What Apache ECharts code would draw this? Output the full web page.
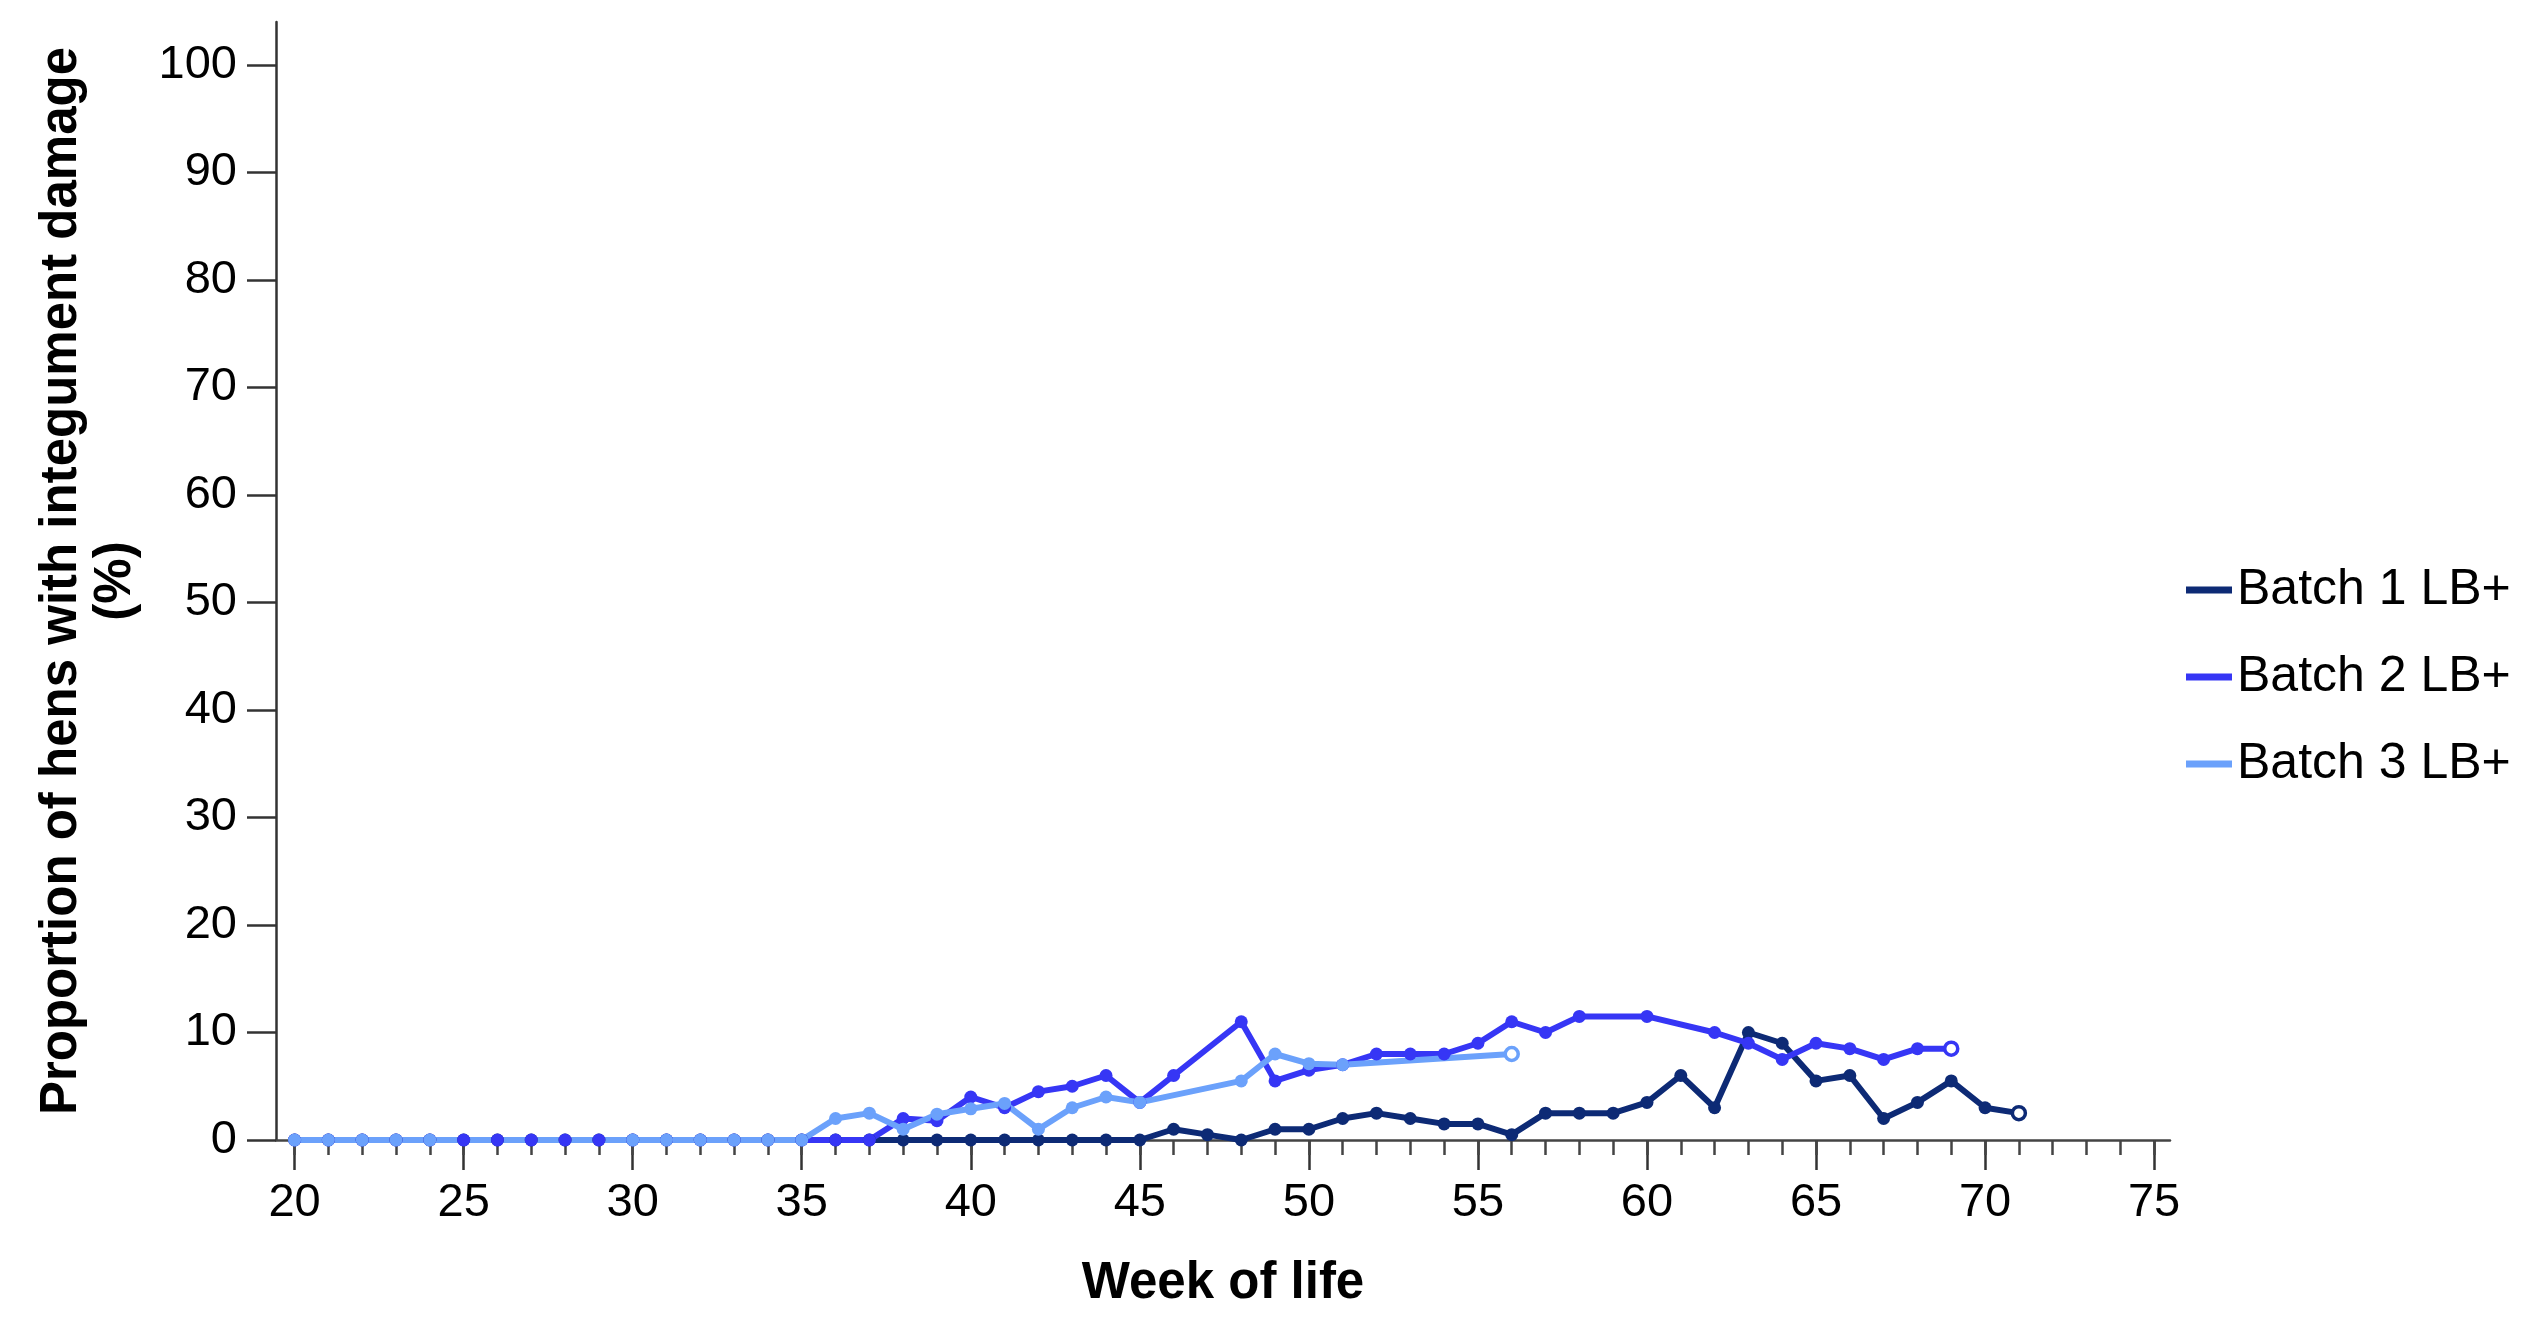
<!DOCTYPE html>
<html>
<head>
<meta charset="utf-8">
<script src="https://cdn.jsdelivr.net/npm/echarts@6/dist/echarts.min.js"></script>
<style>
html,body{margin:0;padding:0;background:#fff;}
#chart{width:2535px;height:1326px;}
</style>
</head>
<body>
<div id="chart"></div>
<script>
// ---- data ----
const weeks1 = [20,21,22,23,24,25,26,27,28,29,30,31,32,33,34,35,36,37,38,39,40,41,42,43,44,45,46,47,48,49,50,51,52,53,54,55,56,57,58,59,60,61,62,63,64,65,66,67,68,69,70,71];
const batch1 = [0,0,0,0,0,0,0,0,0,0,0,0,0,0,0,0,0,0,0,0,0,0,0,0,0,0,1,0.5,0,1,1,2,2.5,2,1.5,1.5,0.5,2.5,2.5,2.5,3.5,6,3,10,9,5.5,6,2,3.5,5.5,3,2.5];

const weeks2 = [20,21,22,23,24,25,26,27,28,29,30,31,32,33,34,35,36,37,38,39,40,41,42,43,44,45,46,47,48,49,50,51,52,53,54,55,56,57,58,59,60,61,62,63,64,65,66,67,68,69];
const batch2 = [0,0,0,0,0,0,0,0,0,0,0,0,0,0,0,0,0,0,2,1.8,4,3,4.5,5,6,3.5,6,null,11,5.5,6.5,7,8,8,8,9,11,10,11.5,null,11.5,null,10,9,7.5,9,8.5,7.5,8.5,8.5];

const weeks3 = [20,21,22,23,24,25,26,27,28,29,30,31,32,33,34,35,36,37,38,39,40,41,42,43,44,45,46,47,48,49,50,51,52,53,54,55,56];
const batch3 = [0,0,0,0,0,null,null,null,null,null,0,0,0,0,0,0,2,2.5,1,2.4,2.9,3.4,1,3,4,3.5,null,null,5.5,8,7.1,7,null,null,null,null,8];

const seriesNames = ['Batch 1 LB+','Batch 2 LB+','Batch 3 LB+'];
const seriesColors = ['#0d2a75','#3636f5','#6ba1fb'];
const xMajorTicks = [20,25,30,35,40,45,50,55,60,65,70,75];
const xMinorTicks = [];
for (let w = 20; w <= 75; w++) xMinorTicks.push(w);
const yTicks = [0,10,20,30,40,50,60,70,80,90,100];

// ---- build ----
function buildData(weeks, vals, color) {
  let lastIdx = -1;
  for (let i = vals.length - 1; i >= 0; i--) { if (vals[i] !== null) { lastIdx = i; break; } }
  return weeks.map((w, i) => {
    if (i === lastIdx) {
      return { value: [w, vals[i]], itemStyle: { color: '#ffffff', borderColor: color, borderWidth: 3.5 } };
    }
    return [w, vals[i]];
  });
}

const font = '"Liberation Sans", Arial, sans-serif';
const allWeeks = [weeks1, weeks2, weeks3];
const allVals = [batch1, batch2, batch3];

const series = seriesNames.map((name, k) => ({
  name: name,
  type: 'line',
  xAxisIndex: 0,
  data: buildData(allWeeks[k], allVals[k], seriesColors[k]),
  connectNulls: true,
  symbol: 'circle',
  symbolSize: 13,
  showAllSymbol: true,
  lineStyle: { color: seriesColors[k], width: 6 },
  itemStyle: { color: seriesColors[k] },
  emphasis: { disabled: true },
  animation: false
}));

const chart = echarts.init(document.getElementById('chart'), null, { renderer: 'canvas' });
chart.setOption({
  backgroundColor: '#ffffff',
  animation: false,
  grid: { left: 276, right: 365, top: 22, bottom: 186, containLabel: false },
  legend: {
    orient: 'vertical',
    left: 2181,
    top: 560,
    itemWidth: 46,
    itemHeight: 7,
    itemGap: 37,
    icon: 'rect',
    data: seriesNames,
    textStyle: { fontSize: 50, color: '#000', fontFamily: font }
  },
  xAxis: [
    {
      type: 'value',
      min: 19.45,
      max: 75.47,
      position: 'bottom',
      name: 'Week of life',
      nameLocation: 'middle',
      nameGap: 118,
      nameTextStyle: { fontSize: 51, fontWeight: 'bold', color: '#000', fontFamily: font },
      axisLine: { show: true, lineStyle: { color: '#444', width: 2.5 } },
      axisTick: { show: true, length: 30, customValues: xMajorTicks, lineStyle: { color: '#333', width: 2.5 } },
      axisLabel: { show: true, customValues: xMajorTicks, margin: 40, fontSize: 47, color: '#000', fontFamily: font },
      splitLine: { show: false }
    },
    {
      type: 'value',
      min: 19.45,
      max: 75.47,
      position: 'bottom',
      axisLine: { show: false },
      axisTick: { show: true, length: 15, customValues: xMinorTicks, lineStyle: { color: '#444', width: 2.5 } },
      axisLabel: { show: false },
      splitLine: { show: false }
    }
  ],
  yAxis: {
    type: 'value',
    min: 0,
    max: 104,
    name: 'Proportion of hens with integument damage\n(%)',
    nameLocation: 'middle',
    nameGap: 133,
    nameTextStyle: { fontSize: 51, fontWeight: 'bold', color: '#000', fontFamily: font, lineHeight: 54 },
    axisLine: { show: true, lineStyle: { color: '#333', width: 2.5 } },
    axisTick: { show: true, length: 29, customValues: yTicks, lineStyle: { color: '#333', width: 2.5 } },
    axisLabel: { show: true, customValues: yTicks, margin: 39, fontSize: 47, color: '#000', fontFamily: font },
    splitLine: { show: false }
  },
  series: series
});
</script>
</body>
</html>
